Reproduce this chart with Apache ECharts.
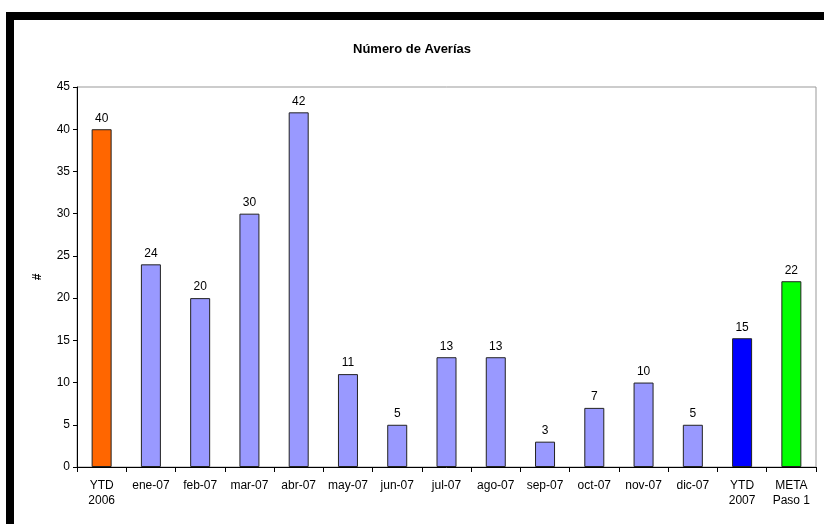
<!DOCTYPE html>
<html>
<head>
<meta charset="utf-8">
<script src="https://cdn.jsdelivr.net/npm/echarts@6/dist/echarts.min.js"></script>
<style>
  html, body { margin: 0; padding: 0; background: #fff; }
  #chart { width: 824px; height: 524px; }
</style>
</head>
<body>
<div id="chart"></div>
<script>
const categories = ['YTD\n2006', 'ene-07', 'feb-07', 'mar-07', 'abr-07', 'may-07', 'jun-07',
  'jul-07', 'ago-07', 'sep-07', 'oct-07', 'nov-07', 'dic-07', 'YTD\n2007', 'META\nPaso 1'];
const values = [40, 24, 20, 30, 42, 11, 5, 13, 13, 3, 7, 10, 5, 15.25, 22];
const barColors = ['#FF6600', '#9999FF', '#9999FF', '#9999FF', '#9999FF', '#9999FF', '#9999FF',
  '#9999FF', '#9999FF', '#9999FF', '#9999FF', '#9999FF', '#9999FF', '#0000FF', '#00FF00'];

const chart = echarts.init(document.getElementById('chart'));
const font = 'Liberation Sans, Arial, sans-serif';

chart.setOption({
  animation: false,
  textStyle: { fontFamily: font },
  title: {
    text: 'Número de Averías',
    left: 'center',
    top: 38,
    textStyle: { fontSize: 13, fontWeight: 'bold', color: '#000', fontFamily: font },
  },
  grid: {
    left: 77, right: 8, top: 87, bottom: 57,
    show: true, borderColor: '#999', borderWidth: 1, backgroundColor: '#fff',
  },
  xAxis: {
    type: 'category',
    data: categories,
    axisLine: { lineStyle: { color: '#000', width: 1 } },
    axisTick: { show: true, length: 5, alignWithLabel: false, lineStyle: { color: '#000' } },
    axisLabel: { color: '#000', fontSize: 12, margin: 11, lineHeight: 15, interval: 0 },
  },
  yAxis: {
    type: 'value',
    min: 0, max: 45, interval: 5,
    name: '#',
    nameLocation: 'middle',
    nameGap: 33,
    nameRotate: 90,
    nameTextStyle: { fontSize: 12, fontWeight: 'bold', color: '#000' },
    axisLine: { show: true, lineStyle: { color: '#000', width: 1 } },
    axisTick: { show: true, length: 4, lineStyle: { color: '#000' } },
    axisLabel: { color: '#000', fontSize: 12, margin: 7 },
    splitLine: { show: false },
  },
  series: [{
    type: 'bar',
    barWidth: 20,
    data: values.map((v, i) => ({ value: v, itemStyle: { color: barColors[i] } })),
    itemStyle: { borderColor: '#222', borderWidth: 1 },
    label: {
      show: true, position: 'top', distance: 5,
      color: '#000', fontSize: 12,
      formatter: (p) => Math.round(p.value),
    },
  }],
  graphic: [
    { type: 'rect', shape: { x: 6, y: 12, width: 818, height: 8 }, style: { fill: '#000' } },
    { type: 'rect', shape: { x: 6, y: 12, width: 8, height: 512 }, style: { fill: '#000' } },
  ],
});
</script>
</body>
</html>
